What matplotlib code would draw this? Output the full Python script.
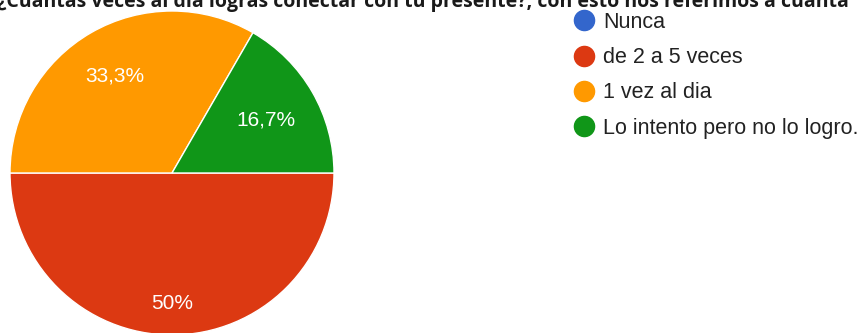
import numpy as np
import matplotlib
matplotlib.use("Agg")
import matplotlib.pyplot as plt
from matplotlib.lines import Line2D

title = "¿Cuántas veces al día logras conectar con tu presente?, con esto nos referimos a cuánta"
categories = ["Nunca", "de 2 a 5 veces", "1 vez al dia", "Lo intento pero no lo logro."]
values = [0, 3, 2, 1]
pct_labels = ["", "50%", "33,3%", "16,7%"]
colors = ["#3366cc", "#dc3912", "#ff9900", "#109618"]
label_dist = [0.7, 0.8, 0.70, 0.67]

W, H = 864, 333
fig = plt.figure(figsize=(W / 100, H / 100), dpi=100)
ax = fig.add_axes([0, 0, 1, 1])

cx, cy, r = 172, 160, 162
wedges, _ = ax.pie(values, colors=colors, startangle=0, counterclock=False,
                   center=(cx, cy), radius=r, frame=True,
                   wedgeprops=dict(linewidth=1, edgecolor="white"))
ax.set_xlim(0, W)
ax.set_ylim(0, H)
ax.axis("off")

for w, lab, d in zip(wedges, pct_labels, label_dist):
    if not lab:
        continue
    ang = np.deg2rad((w.theta1 + w.theta2) / 2)
    ax.text(cx + d * r * np.cos(ang), cy + d * r * np.sin(ang) - 1, lab,
            ha="center", va="center", color="white", fontsize=15,
            family="Liberation Sans")

handles = [Line2D([0], [0], marker="o", linestyle="none", markersize=14.5,
                  markerfacecolor=c, markeredgecolor=c) for c in colors]
leg = fig.legend(handles, categories, loc="upper left",
                 bbox_to_anchor=(573 / W, 1 - 12 / H),
                 frameon=False, prop=dict(family="Liberation Sans", size=15.5),
                 labelspacing=0.66, handletextpad=0.4, handlelength=1.0,
                 borderaxespad=0, borderpad=0)
for t in leg.get_texts():
    t.set_color("#222222")

ax.text(-3, H - 7, title, ha="left", va="baseline", fontsize=14,
        fontweight="bold", family="Open Sans", color="#1a1a1a", clip_on=False)

fig.savefig("out.png", dpi=100)
